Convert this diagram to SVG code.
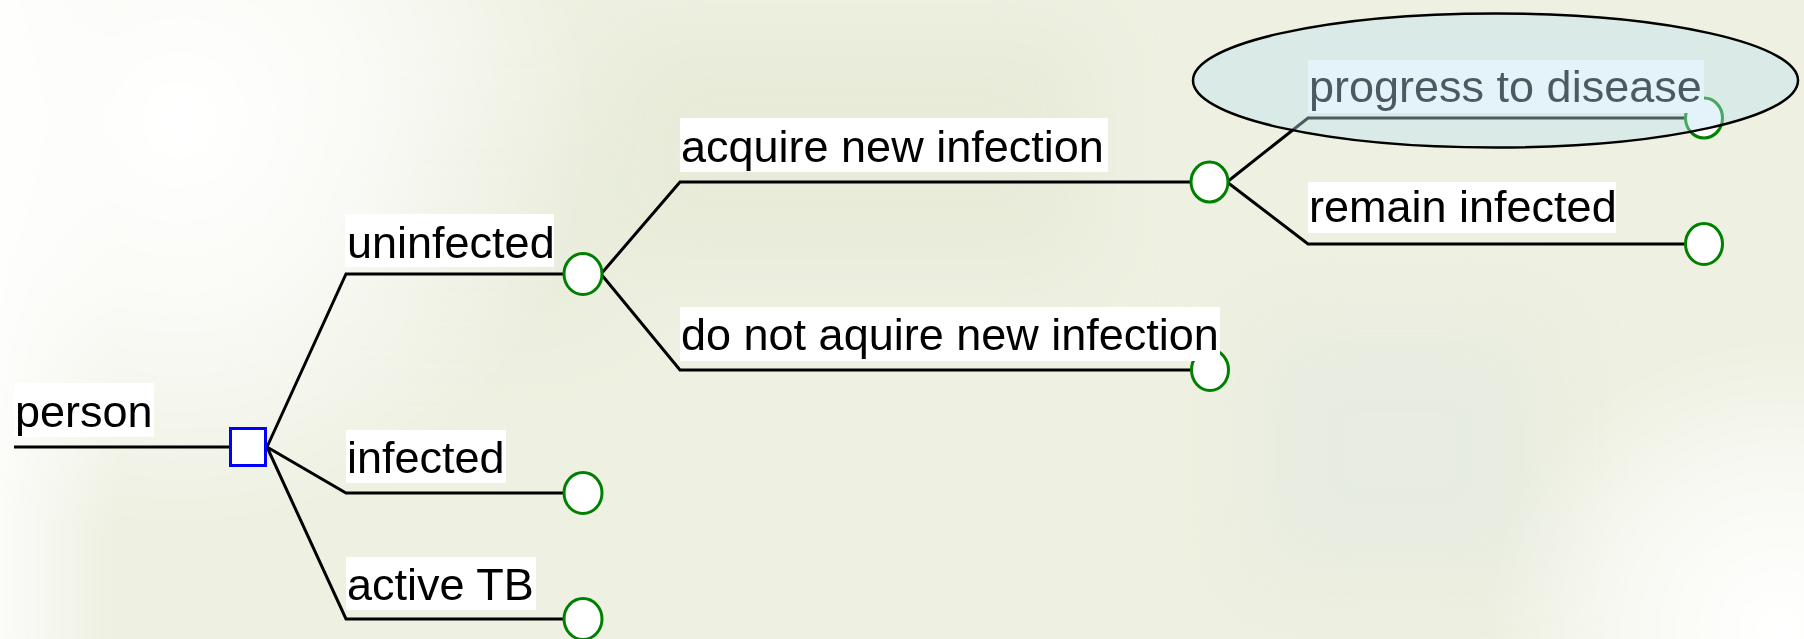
<svg xmlns="http://www.w3.org/2000/svg" width="1804" height="639" viewBox="0 0 1804 639">
  <defs>
    <radialGradient id="tl" cx="180" cy="120" r="420" gradientUnits="userSpaceOnUse">
      <stop offset="0" stop-color="#ffffff" stop-opacity="1"/>
      <stop offset="0.45" stop-color="#ffffff" stop-opacity="0.7"/>
      <stop offset="1" stop-color="#ffffff" stop-opacity="0"/>
    </radialGradient>
    <radialGradient id="br" cx="1780" cy="630" r="300" gradientUnits="userSpaceOnUse">
      <stop offset="0" stop-color="#ffffff" stop-opacity="1"/>
      <stop offset="0.5" stop-color="#ffffff" stop-opacity="0.6"/>
      <stop offset="1" stop-color="#ffffff" stop-opacity="0"/>
    </radialGradient>
    <linearGradient id="lf" x1="0" y1="0" x2="1" y2="0">
      <stop offset="0" stop-color="#ffffff" stop-opacity="0.8"/>
      <stop offset="1" stop-color="#ffffff" stop-opacity="0"/>
    </linearGradient>
    <filter id="soft" x="-20%" y="-20%" width="140%" height="140%">
      <feGaussianBlur stdDeviation="40"/>
    </filter>
    <style>
      .ln { stroke:#000; stroke-width:3; fill:none; stroke-linejoin:miter; }
      .chance { fill:#fff; stroke:#008000; stroke-width:3; }
      .decision { fill:#fff; stroke:#0000ff; stroke-width:3; }
      .lbox { fill:#fff; }
      .lbl { font-family:"Liberation Sans", Arial, sans-serif; font-size:45px; fill:#000; }
    </style>
  </defs>

  <g id="background">
    <rect x="0" y="0" width="1804" height="639" fill="#eef0e1"/>
    <g filter="url(#soft)">
      <rect x="620" y="40" width="460" height="220" fill="#e6ead6" opacity="0.8"/>
      <rect x="1260" y="330" width="280" height="240" fill="#e7ebe1" opacity="0.9"/>
      <rect x="300" y="120" width="300" height="200" fill="#e7ebd8" opacity="0.7"/>
    </g>
    <rect x="0" y="0" width="120" height="639" fill="url(#lf)"/>
    <rect x="0" y="0" width="1804" height="639" fill="url(#tl)"/>
    <rect x="0" y="0" width="1804" height="639" fill="url(#br)"/>
  </g>

  <g id="connectors">
    <polyline class="ln" points="14,447 230,447"/>
    <polyline class="ln" points="267,447 346,274 565,274"/>
    <polyline class="ln" points="267,447 346,493 565,493"/>
    <polyline class="ln" points="267,447 346,619 565,619"/>
    <polyline class="ln" points="601,274 680,182 1191,182"/>
    <polyline class="ln" points="601,274 680,370 1192,370"/>
    <polyline class="ln" points="1227,182 1308,118 1686,118"/>
    <polyline class="ln" points="1227,182 1308,244 1686,244"/>
  </g>

  <g id="node-person">
    <rect class="decision" x="230.5" y="428.5" width="35" height="37"/>
  </g>
  <g id="node-uninfected">
    <ellipse class="chance" cx="583" cy="274" rx="19" ry="20.5"/>
  </g>
  <g id="node-infected">
    <ellipse class="chance" cx="583" cy="493" rx="19" ry="20.5"/>
  </g>
  <g id="node-active-tb">
    <ellipse class="chance" cx="583" cy="619" rx="19" ry="20.5"/>
  </g>
  <g id="node-acquire">
    <ellipse class="chance" cx="1209.5" cy="182" rx="18.5" ry="20"/>
  </g>
  <g id="node-not-acquire">
    <ellipse class="chance" cx="1210" cy="370" rx="18.5" ry="20.5"/>
  </g>
  <g id="node-progress">
    <ellipse class="chance" cx="1704" cy="118" rx="18.5" ry="20"/>
  </g>
  <g id="node-remain">
    <ellipse class="chance" cx="1704" cy="244" rx="18.5" ry="20.5"/>
  </g>

  <g id="label-person">
    <rect class="lbox" x="14" y="383" width="140" height="54"/>
    <text class="lbl" x="15" y="427">person</text>
  </g>
  <g id="label-uninfected">
    <rect class="lbox" x="345" y="214" width="209" height="53"/>
    <text class="lbl" x="347" y="258">uninfected</text>
  </g>
  <g id="label-infected">
    <rect class="lbox" x="346" y="430" width="160" height="53"/>
    <text class="lbl" x="347" y="473">infected</text>
  </g>
  <g id="label-active-tb">
    <rect class="lbox" x="346" y="557" width="190" height="53"/>
    <text class="lbl" x="347" y="600">active TB</text>
  </g>
  <g id="label-acquire">
    <rect class="lbox" x="680" y="118" width="428" height="54"/>
    <text class="lbl" x="681" y="162">acquire new infection</text>
  </g>
  <g id="label-not-acquire">
    <rect class="lbox" x="680" y="307" width="540" height="54"/>
    <text class="lbl" x="681" y="350">do not aquire new infection</text>
  </g>
  <g id="label-remain">
    <rect class="lbox" x="1308" y="182" width="308" height="51"/>
    <text class="lbl" x="1309" y="222">remain infected</text>
  </g>
  <g id="label-progress">
    <rect class="lbox" x="1308" y="60" width="396" height="53"/>
    <text class="lbl" x="1309" y="102">progress to disease</text>
  </g>

  <g id="highlight">
    <ellipse cx="1495.5" cy="80.5" rx="302.5" ry="67" fill="#b8e0f0" fill-opacity="0.4" stroke="#000" stroke-width="2.5"/>
  </g>
</svg>
